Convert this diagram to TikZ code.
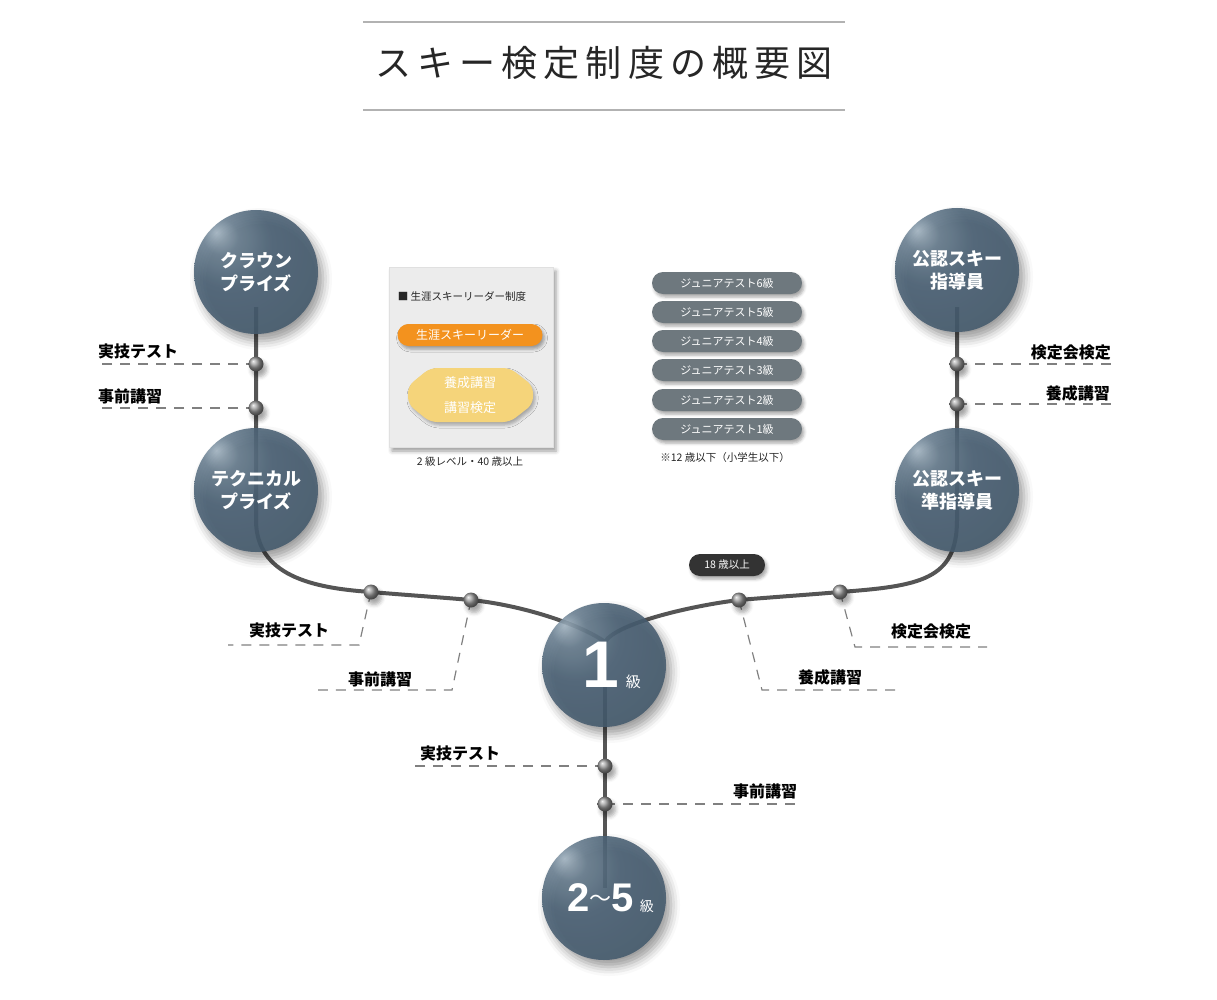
\documentclass[tikz,border=0pt]{standalone}
\usepackage{fontspec}
\setmainfont{Noto Sans CJK JP}
\newfontfamily\titlefont[LetterSpace=17]{Noto Sans CJK JP}
\newfontfamily\digitfont{Liberation Sans}
\usetikzlibrary{shadows,shadows.blur}

\definecolor{spherehl}{RGB}{160,178,192}
\definecolor{spheremid}{RGB}{104,126,144}
\definecolor{spherebase}{RGB}{74,97,117}
\definecolor{spheredark}{RGB}{40,56,70}
\definecolor{trackgray}{RGB}{85,85,85}
\definecolor{leaderorange}{RGB}{243,146,30}
\definecolor{courseyellow}{RGB}{245,212,122}
\definecolor{juniorgray}{RGB}{110,120,126}
\definecolor{panelgray}{RGB}{236,236,236}

\pgfdeclareradialshading{skisphere}{\pgfpoint{-16bp}{16bp}}{%
  color(0bp)=(spherehl); color(7bp)=(spheremid); color(18bp)=(spherebase);
  color(42bp)=(spherebase!75!spheredark); color(62bp)=(spheredark)}

\tikzset{
  skisphere/.style={circle, minimum size=124pt, inner sep=0pt,
    shading=skisphere, fill opacity=0.88, text opacity=1, text=white,
    font=\bfseries\fontsize{18}{23}\selectfont, align=center,
    blur shadow={shadow xshift=5pt, shadow yshift=-7pt,
      shadow blur radius=9pt, shadow opacity=45}},
  knot/.style={circle, minimum size=15pt, inner sep=0pt, shading=ball,
    ball color=black!40,
    blur shadow={shadow xshift=3pt, shadow yshift=-5pt,
      shadow blur radius=4pt, shadow opacity=35}},
  track/.style={draw=trackgray, line width=4pt},
  leader/.style={draw=black!50, line width=1.2pt, dash pattern=on 10pt off 8pt},
  tag/.style={font=\bfseries\fontsize{16}{16}\selectfont, text=black, inner sep=1pt},
  smalltext/.style={font=\fontsize{10.5}{12}\selectfont, text=black!85, inner sep=1pt},
  pill/.style={rounded corners=11pt, minimum height=22pt, inner sep=0pt,
    text=white, font=\fontsize{11}{12}\selectfont,
    blur shadow={shadow xshift=2pt, shadow yshift=-3pt,
      shadow blur radius=3pt, shadow opacity=35}},
  titlerule/.style={draw=black!30, line width=2pt}
}

\begin{document}
\begin{tikzpicture}[x=1pt,y=-1pt]
\useasboundingbox (0,0) rectangle (1217,1000);

% title
\draw[titlerule] (363,22) -- (845,22) (363,110) -- (845,110);
\node[font=\titlefont\fontsize{36}{36}\selectfont, text=black!85] (title) at (604,63) {スキー検定制度の概要図};

% points on the track
\coordinate (tb1) at (256,364);
\coordinate (tb2) at (256,408);
\coordinate (tr1) at (957,364);
\coordinate (tr2) at (957,404);
\coordinate (lb1) at (371,592);
\coordinate (lb2) at (471,600);
\coordinate (rb1) at (739,600);
\coordinate (rb2) at (840,592);
\coordinate (bb1) at (605,766);
\coordinate (bb2) at (605,804);

\coordinate (crown-in) at (256,307);
\coordinate (tech-bend) at (256,520);
\coordinate (hub) at (605,642);
\coordinate (subinstr-bend) at (957,520);
\coordinate (instr-in) at (957,307);
\coordinate (grade25-in) at (605,888);

% track
\draw[track] (crown-in) -- (tb1) -- (tb2) -- (tech-bend)
  .. controls +(0,55) and +(-60,-4) .. (lb1)
  .. controls +(35,3) and +(-35,-3) .. (lb2)
  .. controls +(50,5) and +(-25,-18) .. (hub);
\draw[track] (hub) .. controls +(10,-18) and +(-50,6) .. (rb1)
  .. controls +(35,-3) and +(-35,3) .. (rb2)
  .. controls +(80,-6) and +(0,60) .. (subinstr-bend)
  -- (tr2) -- (tr1) -- (instr-in);
\draw[track] (hub) -- (bb1) -- (bb2) -- (grade25-in);

% leaders
\coordinate (tb1-end) at (97,364);
\coordinate (tb2-end) at (97,408);
\coordinate (tr1-end) at (1112,364);
\coordinate (tr2-end) at (1112,404);
\coordinate (lb1-bend) at (359,645);
\coordinate (lb1-end) at (228,645);
\coordinate (lb2-bend) at (452,690);
\coordinate (lb2-end) at (318,690);
\coordinate (rb1-bend) at (762,690);
\coordinate (rb1-end) at (895,690);
\coordinate (rb2-bend) at (855,647);
\coordinate (rb2-end) at (987,647);
\coordinate (bb1-end) at (410,766);
\coordinate (bb2-end) at (800,804);

\draw[leader] (tb1) -- (tb1-end);
\draw[leader] (tb2) -- (tb2-end);
\draw[leader] (tr1) -- (tr1-end);
\draw[leader] (tr2) -- (tr2-end);
\draw[leader] (lb1) -- (lb1-bend) -- (lb1-end);
\draw[leader] (lb2) -- (lb2-bend) -- (lb2-end);
\draw[leader] (rb1) -- (rb1-bend) -- (rb1-end);
\draw[leader] (rb2) -- (rb2-bend) -- (rb2-end);
\draw[leader] (bb1) -- (bb1-end);
\draw[leader] (bb2) -- (bb2-end);

% spheres
\node[skisphere] (crown) at (256,272) {クラウン\\プライズ};
\node[skisphere] (tech) at (256,490) {テクニカル\\プライズ};
\node[skisphere] (instr) at (957,270) {公認スキー\\指導員};
\node[skisphere] (subinstr) at (957,490) {公認スキー\\準指導員};
\node[skisphere] (first) at (604,665) {\hspace*{15pt}{\digitfont\fontsize{66}{66}\selectfont 1}\hspace{7pt}{\mdseries\fontsize{15}{15}\selectfont 級}};
\node[skisphere] (grade25) at (604,898) {\hspace*{13pt}{\digitfont\fontsize{40}{40}\selectfont 2}\raisebox{5pt}{\mdseries\fontsize{22}{22}\selectfont 〜}{\digitfont\fontsize{40}{40}\selectfont 5}\hspace{6pt}{\mdseries\fontsize{14}{14}\selectfont 級}};

% knots
\foreach \k in {tb1,tb2,tr1,tr2,lb1,lb2,rb1,rb2,bb1,bb2}
  \node[knot] (\k-knot) at (\k) {};

% tags
\node[tag, anchor=west] (tb1-tag) at (97,351) {実技テスト};
\node[tag, anchor=west] (tb2-tag) at (97,396) {事前講習};
\node[tag, anchor=east] (tr1-tag) at (1112,352) {検定会検定};
\node[tag, anchor=east] (tr2-tag) at (1111,393) {養成講習};
\node[tag] (lb1-tag) at (289,630) {実技テスト};
\node[tag] (lb2-tag) at (380,679) {事前講習};
\node[tag] (rb1-tag) at (830,677) {養成講習};
\node[tag] (rb2-tag) at (931,631) {検定会検定};
\node[tag] (bb1-tag) at (460,753) {実技テスト};
\node[tag] (bb2-tag) at (765,791) {事前講習};

% lifelong leader panel
\node[fill=panelgray, draw=black!12, minimum width=164pt, minimum height=180pt,
  blur shadow={shadow xshift=3pt, shadow yshift=-4pt, shadow blur radius=4pt, shadow opacity=40}]
  (panel) at (471,357) {};
\node[smalltext] (panel-title) at (462,296) {■ 生涯スキーリーダー制度};
\node[pill, fill=leaderorange, minimum width=145pt, font=\fontsize{12}{12}\selectfont]
  (leader) at (470,335) {生涯スキーリーダー};
\fill[courseyellow, rounded corners=7pt,
  blur shadow={shadow xshift=2pt, shadow yshift=-3pt, shadow blur radius=3pt, shadow opacity=30}]
  (430,368) -- (510,368) -- (533,386) -- (533,404) -- (510,422)
  -- (430,422) -- (408,404) -- (408,386) -- cycle;
\node[text=white, align=center, font=\fontsize{13}{25}\selectfont] (course) at (470,395) {養成講習\\講習検定};
\node[smalltext] (panel-note) at (470,462) {2 級レベル・40 歳以上};

% junior tests
\foreach \g/\y in {6/283,5/312,4/341,3/370,2/400,1/429}
  \node[pill, fill=juniorgray, minimum width=150pt] (junior\g) at (727,\y) {ジュニアテスト\g 級};
\node[smalltext] (junior-note) at (725,458) {※12 歳以下（小学生以下）};

% age badge
\node[pill, fill=black!80, minimum width=76pt, font=\fontsize{10.5}{12}\selectfont]
  (age) at (727,565) {18 歳以上};

\end{tikzpicture}
\end{document}
